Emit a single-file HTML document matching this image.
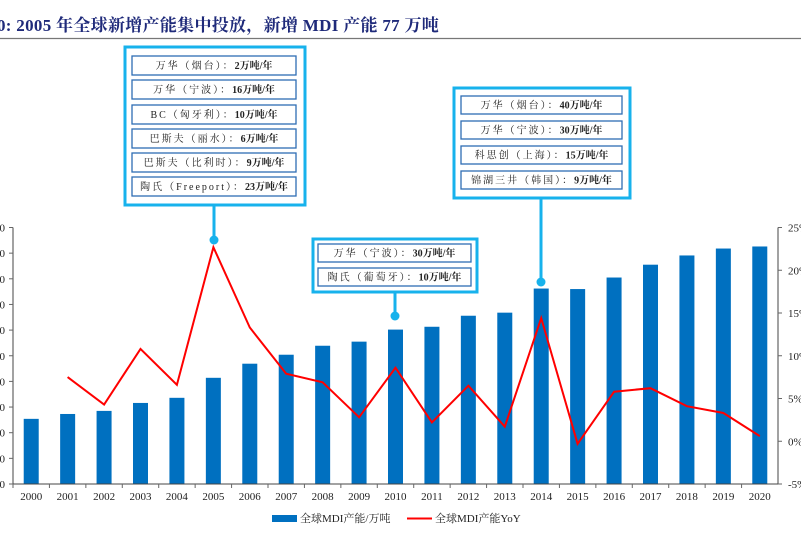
<!DOCTYPE html>
<html><head><meta charset="utf-8">
<style>
body{margin:0;background:#fff;}
svg{display:block;}
.t{font-family:"Liberation Serif","Noto Serif CJK SC",serif;}
</style></head>
<body>
<svg id="c" width="801" height="537" viewBox="0 0 801 537" xmlns="http://www.w3.org/2000/svg" class="t">
<text x="-3" y="31" font-size="17" font-weight="bold" fill="#1f2a7a" letter-spacing="0.3">0:  2005 年全球新增产能集中投放，新增 MDI 产能 77 万吨</text>
<line x1="0" y1="38.5" x2="801" y2="38.5" stroke="#777" stroke-width="1.2"/>
<g id="plot"></g>
<g id="callouts"></g>
<g>
 <rect x="272" y="515" width="25" height="7" fill="#0070c0"/>
 <text x="300" y="522" font-size="11" fill="#222">全球MDI产能/万吨</text>
 <line x1="407" y1="518.5" x2="432" y2="518.5" stroke="#f00" stroke-width="2"/>
 <text x="435" y="522" font-size="11" fill="#222">全球MDI产能YoY</text>
</g>
</svg>
<script>
const years=["2000","2001","2002","2003","2004","2005","2006","2007","2008","2009","2010","2011","2012","2013","2014","2015","2016","2017","2018","2019","2020"];
const capacity=[254,273,285,316,336,414,469,504,539,555,602,613,656,668,762,760,805,855,891,918,926];
const yoy=[null,7.5,4.3,10.8,6.6,22.7,13.3,7.9,6.9,2.8,8.6,2.2,6.5,1.7,14.4,-0.3,5.8,6.2,4.1,3.3,0.6];
const leftTicks=[0,100,200,300,400,500,600,700,800,900,1000];
const rightTicks=[-5,0,5,10,15,20,25];
const NS="http://www.w3.org/2000/svg";
const L=13,R=778,T=227.5,B=484;
const bw=(R-L)/years.length;
const xC=i=>L+bw*(i+0.5);
const yL=v=>B-(v/1000)*(B-T);
const yR=v=>B-((v+5)/30)*(B-T);
function mk(tag,at,parent){const e=document.createElementNS(NS,tag);for(const k in at)e.setAttribute(k,at[k]);(parent||document.getElementById('plot')).appendChild(e);return e;}
const plot=document.getElementById('plot');
capacity.forEach((v,i)=>{const r=mk('rect',{x:xC(i)-7.5,y:yL(v),width:15,height:B-yL(v),fill:'#0070c0'});

});
let a=mk('line',{x1:L,y1:T,x2:L,y2:B,stroke:'#444','stroke-width':1});

a=mk('line',{x1:R,y1:T,x2:R,y2:B,stroke:'#444','stroke-width':1});

a=mk('line',{x1:L,y1:B,x2:R,y2:B,stroke:'#444','stroke-width':1});

leftTicks.forEach(v=>{mk('line',{x1:L-4,y1:yL(v),x2:L,y2:yL(v),stroke:'#666'});
const t=mk('text',{x:5,y:yL(v)+4,'font-size':11,'text-anchor':'end',fill:'#222'});t.textContent=v;
});
rightTicks.forEach(v=>{mk('line',{x1:R,y1:yR(v),x2:R+4,y2:yR(v),stroke:'#666'});
const t=mk('text',{x:788,y:yR(v)+4,'font-size':11,fill:'#222'});t.textContent=v+'%';
});
years.forEach((y,i)=>{mk('line',{x1:L+bw*i,y1:B,x2:L+bw*i,y2:B+4,stroke:'#666'});
const t=mk('text',{x:xC(i),y:500,'font-size':11,'text-anchor':'middle',fill:'#222'});t.textContent=y;
});
let d='';yoy.forEach((v,i)=>{if(v===null)return;d+=(d?'L':'M')+xC(i).toFixed(1)+','+yR(v).toFixed(1);});
const ln=mk('path',{d:d,fill:'none',stroke:'#ff0000','stroke-width':2});

const cg=document.getElementById('callouts');
function callout(name,box,rows,stemX,dotY){
 const g=mk('g',{},cg);
 
 mk('line',{x1:stemX,y1:box.y+box.h,x2:stemX,y2:dotY,stroke:'#17b2ec','stroke-width':3},g);
 mk('circle',{cx:stemX,cy:dotY,r:4.5,fill:'#17b2ec'},g);
 mk('rect',{x:box.x,y:box.y,width:box.w,height:box.h,fill:'#fff',stroke:'#17b2ec','stroke-width':3},g);
 rows.forEach(r=>{mk('rect',{x:r.x,y:r.y,width:r.w,height:r.h,fill:'#fff',stroke:'#2e6db4','stroke-width':1.3},g);
  const t=mk('text',{x:r.x+r.w/2,y:r.y+r.h/2+3.5,'font-size':10,'text-anchor':'middle',fill:'#222'},g);
  const s1=document.createElementNS(NS,'tspan');s1.setAttribute('letter-spacing','2');s1.textContent=r.a;t.appendChild(s1);
  const s2=document.createElementNS(NS,'tspan');s2.setAttribute('font-weight','bold');s2.textContent=r.b;t.appendChild(s2);
  });
}
const r1=[["万华（烟台）：","2万吨/年"],["万华（宁波）：","16万吨/年"],["BC（匈牙利）：","10万吨/年"],["巴斯夫（丽水）：","6万吨/年"],["巴斯夫（比利时）：","9万吨/年"],["陶氏（Freeport）：","23万吨/年"]];
const r1y=[56,80,105,129,153,177];
callout('callout-2005',{x:125,y:47,w:180,h:158},r1.map((r,i)=>({x:132,y:r1y[i],w:164,h:19,a:r[0],b:r[1]})),214,240);
const r2=[["万华（宁波）：","30万吨/年"],["陶氏（葡萄牙）：","10万吨/年"]];
callout('callout-2010',{x:313,y:239,w:164,h:53},r2.map((r,i)=>({x:318,y:[244,268][i],w:153,h:18,a:r[0],b:r[1]})),395,316);
const r3=[["万华（烟台）：","40万吨/年"],["万华（宁波）：","30万吨/年"],["科思创（上海）：","15万吨/年"],["锦湖三井（韩国）：","9万吨/年"]];
callout('callout-2014',{x:454,y:88,w:176,h:110},r3.map((r,i)=>({x:461,y:[96,121,146,171][i],w:161,h:18,a:r[0],b:r[1]})),541,282);
</script>
</body></html>
